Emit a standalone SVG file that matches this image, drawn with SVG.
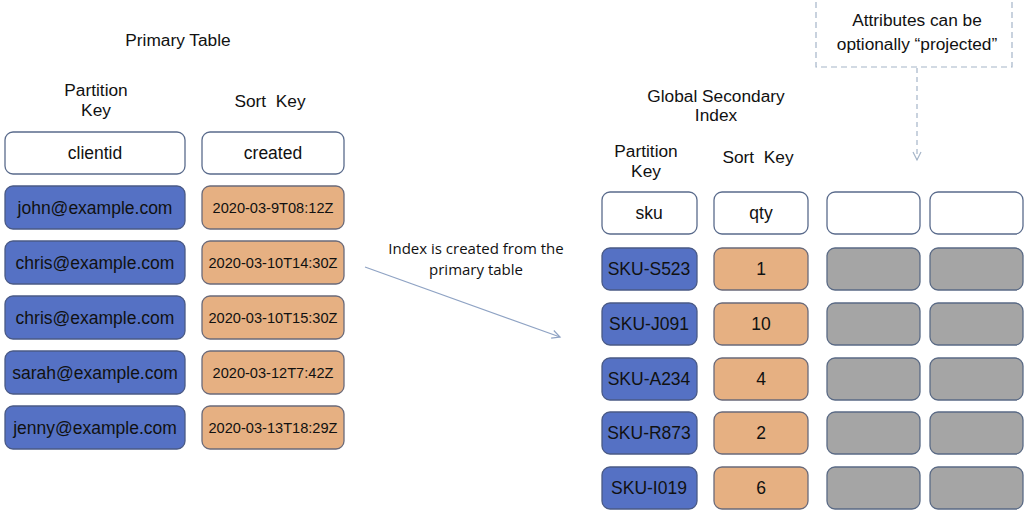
<svg xmlns="http://www.w3.org/2000/svg" width="1024" height="510" viewBox="0 0 1024 510">
<style>
text{font-family:"Liberation Sans",Arial,sans-serif;fill:#111;text-anchor:middle;dominant-baseline:central;white-space:pre}
.t{font-size:17.5px}
.d{font-size:14.6px}
.hd{fill:#fff;stroke:#5a6b8c;stroke-width:1.3}
.pk{fill:#5571c4;stroke:#4a5a85;stroke-width:1.3}
.sk{fill:#e6b082;stroke:#6a6a7a;stroke-width:1.3}
.gr{fill:#a5a5a5;stroke:#5a6a85;stroke-width:1.3}
.lbl{font-size:17.3px}
.cal{font-family:"Open Sans","Liberation Sans",sans-serif;font-size:15px}
</style>
<defs>
<marker id="open" markerWidth="12" markerHeight="12" refX="9" refY="5" orient="auto" markerUnits="userSpaceOnUse"><path d="M1,1 L9,5 L1,9" fill="none" stroke="#8fa3c4" stroke-width="1.2"/></marker>
<marker id="openD" markerWidth="12" markerHeight="12" refX="9" refY="5" orient="auto" markerUnits="userSpaceOnUse"><path d="M1,1 L9,5 L1,9" fill="none" stroke="#a5b5c8" stroke-width="1.2"/></marker>
</defs>
<rect width="1024" height="510" fill="#fff"/>
<g id="labels">
<text class="lbl" x="178" y="40">Primary Table</text>
<text class="lbl" x="96" y="90">Partition</text>
<text class="lbl" x="96" y="110">Key</text>
<text class="lbl" x="270" y="101" xml:space="preserve">Sort  Key</text>
<text class="lbl" x="716" y="96">Global Secondary</text>
<text class="lbl" x="716" y="115">Index</text>
<text class="lbl" x="646" y="151">Partition</text>
<text class="lbl" x="646" y="171">Key</text>
<text class="lbl" x="758" y="157" xml:space="preserve">Sort  Key</text>
<text class="cal" x="476" y="248">Index is created from the</text>
<text class="cal" x="476" y="269">primary table</text>
</g>
<g id="note">
<rect x="816" y="-2" width="196" height="69" fill="#fff" stroke="#a5b5c8" stroke-width="1.2" stroke-dasharray="6,4"/>
<text class="lbl" x="917" y="20">Attributes can be</text>
<text class="lbl" x="917" y="44">optionally “projected”</text>
</g>
<g id="primary-table">
<rect class="hd" x="5" y="132" width="180" height="42" rx="8"/><text class="t" x="95" y="153">clientid</text>
<rect class="hd" x="202" y="132" width="142" height="42" rx="8"/><text class="t" x="273" y="153">created</text>
<rect class="pk" x="5" y="186" width="180" height="43" rx="8"/><text class="t" x="95" y="208">john@example.com</text>
<rect class="sk" x="202" y="186" width="142" height="43" rx="8"/><text class="d" x="273" y="208">2020-03-9T08:12Z</text>
<rect class="pk" x="5" y="241" width="180" height="43" rx="8"/><text class="t" x="95" y="263">chris@example.com</text>
<rect class="sk" x="202" y="241" width="142" height="43" rx="8"/><text class="d" x="273" y="263">2020-03-10T14:30Z</text>
<rect class="pk" x="5" y="296" width="180" height="43" rx="8"/><text class="t" x="95" y="318">chris@example.com</text>
<rect class="sk" x="202" y="296" width="142" height="43" rx="8"/><text class="d" x="273" y="318">2020-03-10T15:30Z</text>
<rect class="pk" x="5" y="351" width="180" height="43" rx="8"/><text class="t" x="95" y="373">sarah@example.com</text>
<rect class="sk" x="202" y="351" width="142" height="43" rx="8"/><text class="d" x="273" y="373">2020-03-12T7:42Z</text>
<rect class="pk" x="5" y="406" width="180" height="43" rx="8"/><text class="t" x="95" y="428">jenny@example.com</text>
<rect class="sk" x="202" y="406" width="142" height="43" rx="8"/><text class="d" x="273" y="428">2020-03-13T18:29Z</text>
</g>
<g id="gsi">
<rect class="hd" x="602" y="192" width="95" height="42" rx="8"/><text class="t" x="649" y="213">sku</text>
<rect class="hd" x="714" y="192" width="94" height="42" rx="8"/><text class="t" x="761" y="213">qty</text>
<rect class="hd" x="827" y="192" width="93" height="42" rx="8"/>
<rect class="hd" x="930" y="192" width="93" height="42" rx="8"/>
<rect class="pk" x="602" y="248" width="95" height="42" rx="8"/><text class="t" x="649" y="269">SKU-S523</text>
<rect class="sk" x="714" y="248" width="94" height="42" rx="8"/><text class="t" x="761" y="269">1</text>
<rect class="gr" x="827" y="248" width="93" height="42" rx="8"/><rect class="gr" x="930" y="248" width="93" height="42" rx="8"/>
<rect class="pk" x="602" y="303" width="95" height="42" rx="8"/><text class="t" x="649" y="324">SKU-J091</text>
<rect class="sk" x="714" y="303" width="94" height="42" rx="8"/><text class="t" x="761" y="324">10</text>
<rect class="gr" x="827" y="303" width="93" height="42" rx="8"/><rect class="gr" x="930" y="303" width="93" height="42" rx="8"/>
<rect class="pk" x="602" y="358" width="95" height="42" rx="8"/><text class="t" x="649" y="379">SKU-A234</text>
<rect class="sk" x="714" y="358" width="94" height="42" rx="8"/><text class="t" x="761" y="379">4</text>
<rect class="gr" x="827" y="358" width="93" height="42" rx="8"/><rect class="gr" x="930" y="358" width="93" height="42" rx="8"/>
<rect class="pk" x="602" y="412" width="95" height="42" rx="8"/><text class="t" x="649" y="433">SKU-R873</text>
<rect class="sk" x="714" y="412" width="94" height="42" rx="8"/><text class="t" x="761" y="433">2</text>
<rect class="gr" x="827" y="412" width="93" height="42" rx="8"/><rect class="gr" x="930" y="412" width="93" height="42" rx="8"/>
<rect class="pk" x="602" y="467" width="95" height="42" rx="8"/><text class="t" x="649" y="488">SKU-I019</text>
<rect class="sk" x="714" y="467" width="94" height="42" rx="8"/><text class="t" x="761" y="488">6</text>
<rect class="gr" x="827" y="467" width="93" height="42" rx="8"/><rect class="gr" x="930" y="467" width="93" height="42" rx="8"/>
</g>
<g id="connectors">
<line x1="365" y1="267" x2="560" y2="337" stroke="#8fa3c4" stroke-width="1.2" marker-end="url(#open)"/>
<line x1="917" y1="68" x2="917" y2="160" stroke="#a5b5c8" stroke-width="1.2" stroke-dasharray="5,4" marker-end="url(#openD)"/>
</g>
</svg>
